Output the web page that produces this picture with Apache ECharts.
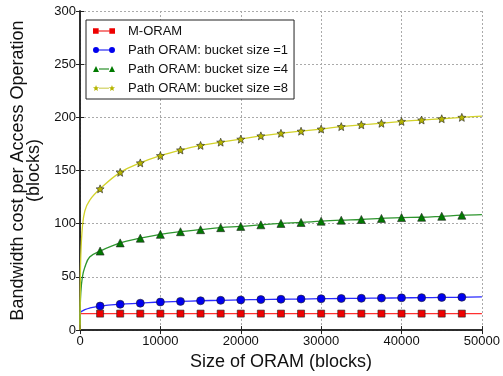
<!DOCTYPE html>
<html>
<head>
<meta charset="utf-8">
<script src="https://cdn.jsdelivr.net/npm/echarts@6/dist/echarts.min.js"></script>
<style>
  html, body { margin: 0; padding: 0; background: #fff; }
  #chart { width: 503px; height: 376px; }
</style>
</head>
<body>
<div id="chart"></div>
<script>
// ORAM sizes where markers are drawn
const sizes = [2500, 5000, 7500, 10000, 12500, 15000, 17500, 20000, 22500, 25000,
  27500, 30000, 32500, 35000, 37500, 40000, 42500, 45000, 47500]
// extra points (no marker) for the steep start and the end of each curve
const startSizes = [1, 20, 100, 300, 600, 1200]
const endSize = 50000

const moram = [15.5, 15.5, 15.5, 15.5, 15.5, 15.5, 15.5, 15.5, 15.5, 15.5,
  15.5, 15.5, 15.5, 15.5, 15.5, 15.5, 15.5, 15.5, 15.5]
const moramStart = [15.5, 15.5, 15.5, 15.5, 15.5, 15.5]
const moramEnd = 15.5

const path1 = [22.6, 24.3, 25.3, 26.4, 27.0, 27.6, 28.0, 28.4, 28.7, 29.0,
  29.2, 29.5, 29.7, 29.9, 30.1, 30.3, 30.5, 30.7, 30.9]
const path1Start = [15, 16, 17, 18, 19.2, 20.7]
const path1End = 31.2

const path4 = [74.3, 82.0, 86.4, 90.0, 92.5, 94.4, 96.3, 97.5, 99.0, 100.3,
  101.2, 102.4, 103.3, 104.0, 105.0, 105.8, 106.1, 107.0, 108.0]
const path4Start = [5, 18, 35, 50, 59, 68.7]
const path4End = 108.6

const path8 = [132.8, 148.3, 157.2, 164.0, 169.3, 173.6, 176.7, 179.5, 182.6, 185.0,
  187.0, 189.0, 191.3, 193.0, 194.4, 196.2, 197.5, 198.7, 200.0]
const path8Start = [0, 30, 70, 97, 112, 122]
const path8End = 201.2

const names = ['M-ORAM', 'Path ORAM: bucket size =1', 'Path ORAM: bucket size =4', 'Path ORAM: bucket size =8']

function buildData(startVals, vals, endVal) {
  const d = []
  startSizes.forEach((n, i) => d.push({value: [n, startVals[i]], symbol: 'none'}))
  sizes.forEach((n, i) => d.push([n, vals[i]]))
  d.push({value: [endSize, endVal], symbol: 'none'})
  return d
}

// star marker path
function starPath(cx, cy, r) {
  let p = ''
  for (let i = 0; i < 10; i++) {
    const a = -Math.PI / 2 + i * Math.PI / 5
    const rr = i % 2 === 0 ? r : r * 0.45
    p += (i === 0 ? 'M' : 'L') + (cx + rr * Math.cos(a)).toFixed(2) + ',' + (cy + rr * Math.sin(a)).toFixed(2)
  }
  return p + 'Z'
}
const starSymbol = 'path://' + starPath(10, 10, 10)

// legend icons: marker - line - marker
const bar = 'M6,3.2h10v0.9h-10Z'
const legendIcons = [
  'path://M0.5,0.9h5.4v5.4h-5.4Z' + bar + 'M16.1,0.9h5.4v5.4h-5.4Z',
  'path://M0,3.6a3,3 0 1,0 6,0a3,3 0 1,0 -6,0Z' + bar + 'M16,3.6a3,3 0 1,0 6,0a3,3 0 1,0 -6,0Z',
  'path://M0,6.8L3,0.6L6,6.8Z' + bar + 'M16,6.8L19,0.6L22,6.8Z',
  'path://' + starPath(3, 3.8, 3.2) + bar + starPath(19, 3.8, 3.2)
]

const chart = echarts.init(document.getElementById('chart'))

const axisLine = {lineStyle: {color: '#222', width: 1.5}}
const tick = {inside: true, length: 4, lineStyle: {color: '#222'}}
const split = {lineStyle: {color: '#aaa', type: [2, 2]}}
const labelFont = {fontFamily: 'Liberation Sans', fontSize: 13, color: '#111'}
const nameFont = {fontFamily: 'Liberation Sans', fontSize: 18, color: '#111'}

function series(i, color, lineColor, symbol, size, data) {
  return {
    name: names[i],
    type: 'line',
    data: data,
    symbol: symbol,
    symbolSize: size,
    showAllSymbol: true,
    smooth: 0.4,
    z: 2 + i,
    itemStyle: {color: color, borderColor: '#222', borderWidth: 0.6},
    lineStyle: {color: lineColor, width: 1.3},
    emphasis: {disabled: true}
  }
}

chart.setOption({
  animation: false,
  grid: {left: 80, right: 21, top: 11, bottom: 42},
  legend: {
    orient: 'vertical',
    left: 86,
    top: 20,
    padding: [3, 6, 3, 7],
    itemGap: 3,
    itemWidth: 22,
    itemHeight: 7,
    borderColor: '#222',
    borderWidth: 1,
    backgroundColor: '#fff',
    itemStyle: {borderWidth: 0},
    data: names.map((n, i) => ({name: n, icon: legendIcons[i]})),
    textStyle: {fontFamily: 'Liberation Sans', fontSize: 13, color: '#111', lineHeight: 16, padding: [0, 0, 0, 8]}
  },
  xAxis: [
    {
      type: 'value', min: 0, max: 50000, interval: 10000,
      name: 'Size of ORAM (blocks)', nameLocation: 'middle', nameGap: 20,
      nameTextStyle: nameFont,
      axisLine: axisLine, axisTick: tick, splitLine: split,
      axisLabel: Object.assign({margin: 5, formatter: v => String(v)}, labelFont)
    },
    {
      type: 'value', position: 'top', min: 0, max: 50000, interval: 10000,
      axisLine: axisLine, axisTick: tick, splitLine: {show: false}, axisLabel: {show: false}
    }
  ],
  yAxis: [
    {
      type: 'value', min: 0, max: 300, interval: 50,
      name: 'Bandwidth cost per Access Operation\n(blocks)', nameLocation: 'middle', nameGap: 19,
      nameTextStyle: Object.assign({lineHeight: 16}, nameFont),
      axisLine: axisLine, axisTick: tick, splitLine: split,
      axisLabel: Object.assign({margin: 4}, labelFont)
    },
    {
      type: 'value', position: 'right', min: 0, max: 300, interval: 50,
      axisLine: axisLine, axisTick: tick, splitLine: {show: false}, axisLabel: {show: false}
    }
  ],
  series: [
    series(0, '#ee0000', '#ff3030', 'rect', 7, buildData(moramStart, moram, moramEnd)),
    series(1, '#0000ee', '#2a2aff', 'circle', 8, buildData(path1Start, path1, path1End)),
    series(2, '#007a00', '#2e962e', 'triangle', 8, buildData(path4Start, path4, path4End)),
    series(3, '#b5b500', '#d2d22a', starSymbol, 8, buildData(path8Start, path8, path8End))
  ]
})
</script>
</body>
</html>
